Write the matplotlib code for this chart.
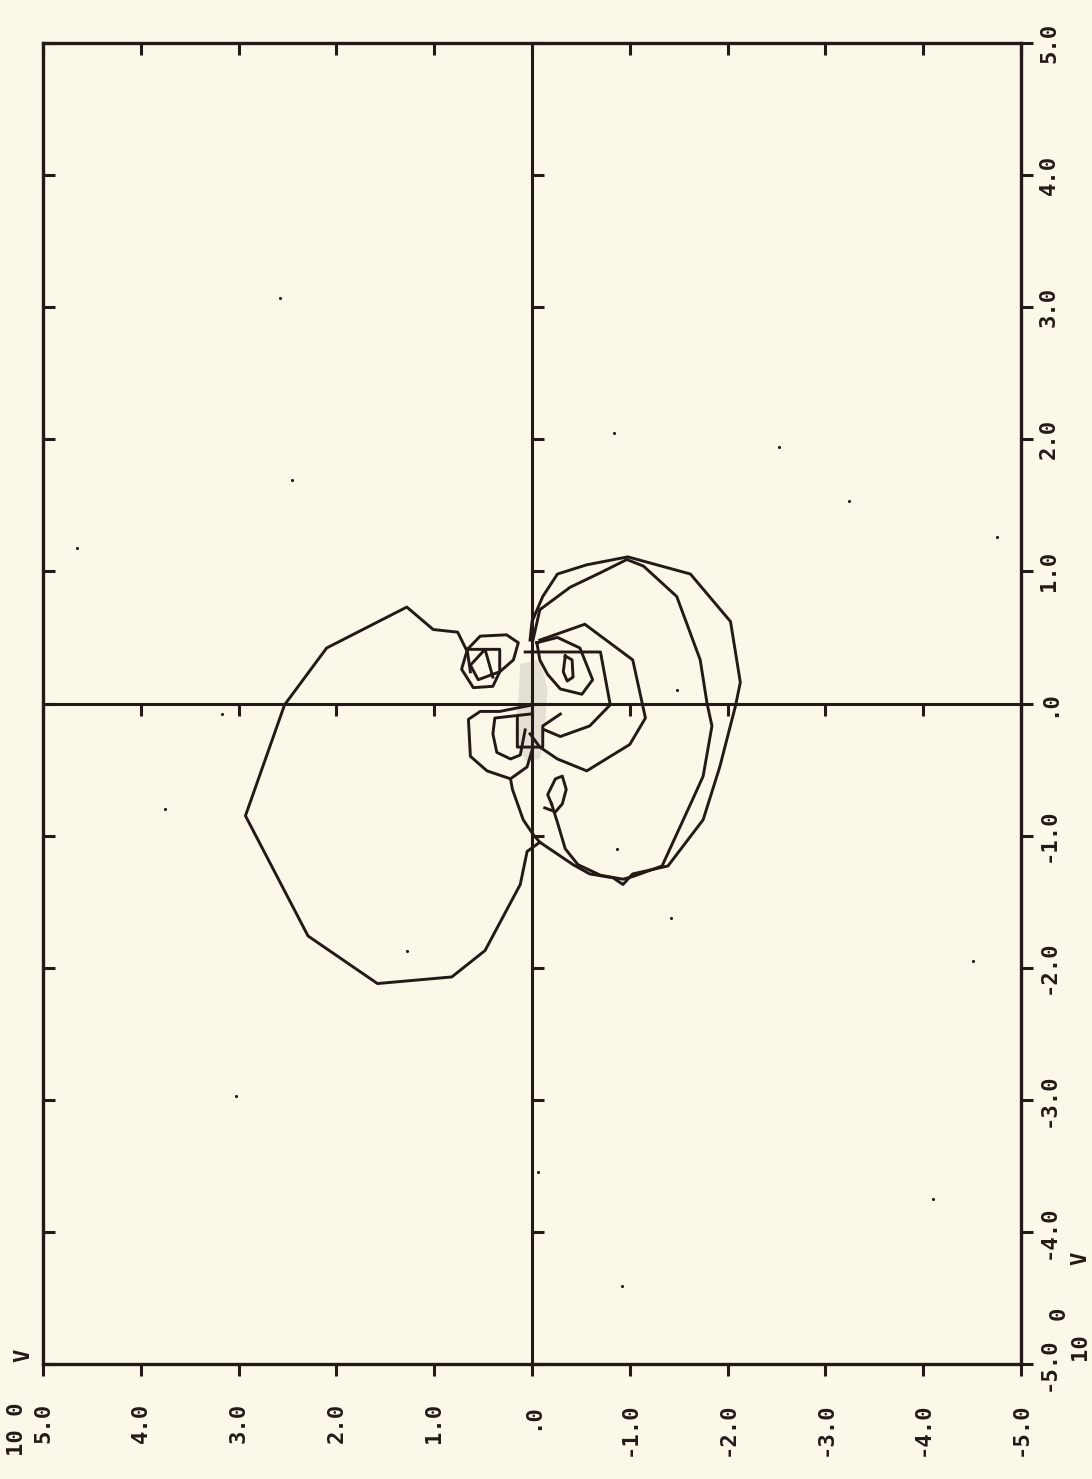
import matplotlib
matplotlib.use("Agg")
import matplotlib.pyplot as plt
import numpy as np

PAPER = "#fbf8e9"
INK = "#231a17"

TICKS = [5, 4, 3, 2, 1, 0, -1, -2, -3, -4, -5]
TICK_LABELS = ["5.0", "4.0", "3.0", "2.0", "1.0", ".0", "-1.0", "-2.0", "-3.0", "-4.0", "-5.0"]

# trajectory pieces (x, y) in volts
loop_left_x = [0.63, 0.66, 0.76, 1.01, 1.28, 2.10, 2.53, 2.93, 2.29, 1.58, 0.82, 0.48, 0.12, 0.05, -0.08,
               -0.42, -0.59, -0.83, -0.93, -1.03, -1.39, -1.75, -1.92, -2.08, -2.13, -2.03, -1.62, -0.98,
               -0.56, -0.26, -0.11, 0.00, 0.02]
loop_left_y = [0.24, 0.39, 0.54, 0.56, 0.73, 0.42, -0.01, -0.85, -1.76, -2.12, -2.07, -1.87, -1.37, -1.12, -1.05,
               -1.22, -1.29, -1.32, -1.37, -1.29, -1.23, -0.88, -0.48, -0.02, 0.16, 0.62, 0.98, 1.11,
               1.05, 0.98, 0.81, 0.62, 0.48]

loop_right_x = [-0.01, -0.08, -0.39, -0.70, -0.97, -1.14, -1.48, -1.72, -1.79, -1.84, -1.75, -1.64, -1.33,
                -1.03, -0.93, -0.70, -0.47, -0.34, -0.26, -0.20]
loop_right_y = [0.48, 0.71, 0.88, 0.99, 1.09, 1.04, 0.81, 0.33, 0.00, -0.17, -0.55, -0.73, -1.23,
                -1.31, -1.33, -1.30, -1.22, -1.10, -0.90, -0.76]

tail_x = [-0.20, -0.16, -0.24, -0.31, -0.35, -0.31, -0.24, -0.13]
tail_y = [-0.76, -0.69, -0.57, -0.55, -0.65, -0.76, -0.82, -0.79]

link_x = [-0.08, -0.01, 0.09, 0.20, 0.22]
link_y = [-1.05, -0.99, -0.88, -0.65, -0.57]

hex_x = [-0.08, -0.54, -1.03, -1.16, -1.00, -0.56, -0.26, -0.08, 0.02]
hex_y = [0.48, 0.60, 0.33, -0.11, -0.31, -0.51, -0.42, -0.33, -0.23]

rect_x = [0.07, -0.70, -0.80, -0.59, -0.29, -0.13]
rect_y = [0.39, 0.39, -0.01, -0.17, -0.25, -0.20]

heart_x = [-0.05, -0.26, -0.49, -0.62, -0.51, -0.29, -0.16, -0.08, -0.05]
heart_y = [0.46, 0.50, 0.42, 0.18, 0.07, 0.11, 0.22, 0.33, 0.46]

oval_x = [-0.34, -0.41, -0.42, -0.36, -0.32, -0.34]
oval_y = [0.36, 0.33, 0.20, 0.17, 0.24, 0.36]

oct_x = [0.66, 0.53, 0.26, 0.14, 0.19, 0.33, 0.40, 0.60, 0.72, 0.66]
oct_y = [0.41, 0.51, 0.52, 0.46, 0.33, 0.24, 0.13, 0.12, 0.26, 0.41]

inner_x = [0.65, 0.33, 0.33, 0.55, 0.63, 0.48, 0.40]
inner_y = [0.41, 0.41, 0.24, 0.18, 0.29, 0.41, 0.20]

low_left_x = [-0.01, 0.33, 0.53, 0.65, 0.63, 0.46, 0.22, 0.05, -0.01]
low_left_y = [-0.01, -0.06, -0.06, -0.12, -0.40, -0.51, -0.57, -0.48, -0.33]

low_mid_x = [0.02, 0.38, 0.40, 0.36, 0.22, 0.12, 0.07]
low_mid_y = [-0.08, -0.11, -0.23, -0.37, -0.42, -0.39, -0.20]

box_x = [0.15, 0.15, -0.11, -0.11, -0.29]
box_y = [-0.10, -0.33, -0.33, -0.17, -0.08]

haze_x = [0.12, -0.08, -0.16, -0.13, -0.08, 0.07, 0.17, 0.14]
haze_y = [0.30, 0.33, 0.11, -0.20, -0.42, -0.44, -0.23, 0.03]

speck_x = [1.28, 3.03, -0.87, -1.42, -1.48, -4.75, -0.92, 2.58, 2.45, 4.65, 3.17, 3.75, -0.84, -2.53, -3.24,
           -4.51, -4.10, -0.06]
speck_y = [-1.87, -2.97, -1.10, -1.62, 0.10, 1.26, -4.41, 3.07, 1.69, 1.18, -0.08, -0.80, 2.05, 1.94, 1.53,
           -1.95, -3.75, -3.55]

pieces = [
    (loop_left_x, loop_left_y), (loop_right_x, loop_right_y), (tail_x, tail_y), (link_x, link_y),
    (hex_x, hex_y), (rect_x, rect_y), (heart_x, heart_y), (oval_x, oval_y), (oct_x, oct_y),
    (inner_x, inner_y), (low_left_x, low_left_y), (low_mid_x, low_mid_y), (box_x, box_y),
]

W, H = 1092, 1479
fig = plt.figure(figsize=(W / 100, H / 100), dpi=100, facecolor=PAPER)
ax = fig.add_axes([43 / W, 1 - 1364 / H, (1021 - 43) / W, (1364 - 43) / H], facecolor=PAPER)
ax.set_xlim(5, -5)
ax.set_ylim(-5, 5)

for s in ax.spines.values():
    s.set_linewidth(2.4)
    s.set_color(INK)

# center axes
ax.axhline(0, color=INK, lw=2.2)
ax.axvline(0, color=INK, lw=2.2)

# faint grey where the path winds down at the origin
ax.fill(haze_x, haze_y, color="#cfccc1", alpha=0.5, lw=0)

for px, py in pieces:
    ax.plot(px, py, color=INK, lw=2.1, solid_joinstyle="round")

ax.scatter(speck_x, speck_y, s=5, color=INK, lw=0, clip_on=False)

# tick marks: horizontal lines tick downward, vertical lines tick to the right
t = np.array(TICKS, dtype=float)
tick_kw = dict(ls="none", color=INK, markersize=8.6, mew=2.2, clip_on=False)
for yline in (5, 0, -5):
    ax.plot(t, np.full_like(t, yline), marker=3, **tick_kw)
for xline in (5, 0, -5):
    ax.plot(np.full_like(t, xline), t, marker=1, **tick_kw)

font = dict(family="DejaVu Sans Mono", weight="bold", size=16)

ax.set_xticks(TICKS, TICK_LABELS)
ax.tick_params(axis="x", length=0, pad=28, colors=INK)
for lab in ax.get_xticklabels():
    lab.set(rotation=90, ha="center", va="top", **font)

ax.yaxis.tick_right()
ax.set_yticks(TICKS, TICK_LABELS)
ax.tick_params(axis="y", length=0, pad=13, colors=INK)
for lab in ax.get_yticklabels():
    lab.set(rotation=90, ha="left", va="center", **font)

fig.text(23 / W, 1 - 1355 / H, "V", rotation=90, ha="center", va="center", color=INK, **font)
fig.text(17 / W, 1 - 1403 / H, "10 0", rotation=90, ha="center", va="top", color=INK, **font)
fig.text(1080 / W, 1 - 1258 / H, "V", rotation=90, ha="center", va="center", color=INK, **font)
fig.text(1080 / W, 1 - 1347 / H, "10", rotation=90, ha="center", va="center", color=INK, **font)
fig.text(1059 / W, 1 - 1313 / H, "0", rotation=90, ha="center", va="center", color=INK, **font)

fig.savefig("out.png", dpi=100, facecolor=PAPER)
